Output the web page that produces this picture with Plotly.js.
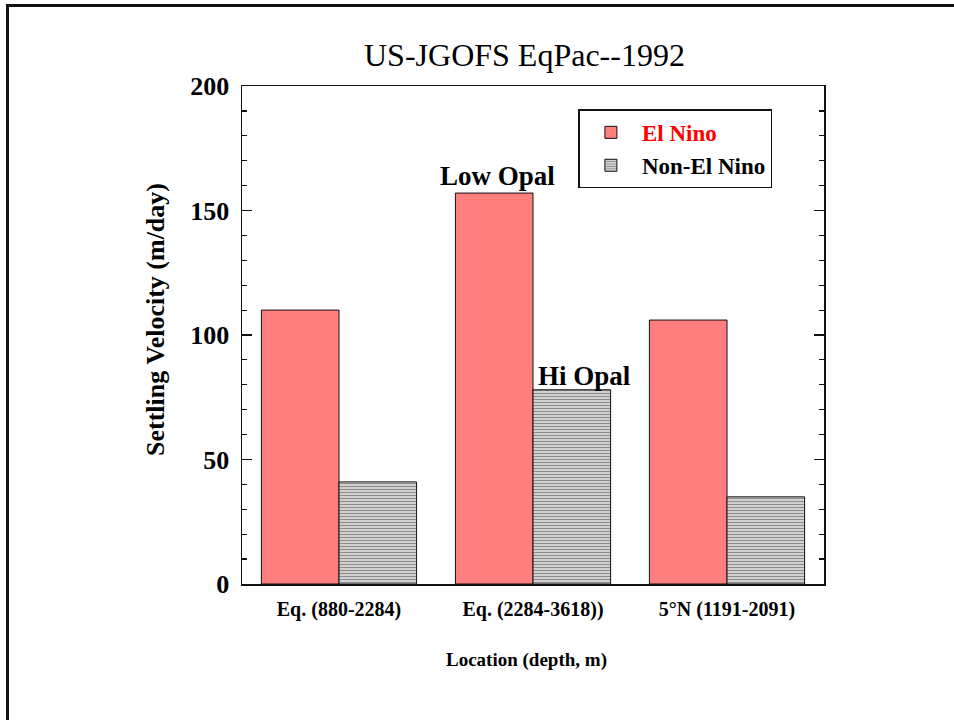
<!DOCTYPE html>
<html>
<head>
<meta charset="utf-8">
<script src="https://cdn.plot.ly/plotly-3.0.1.min.js"></script>
<style>
body{margin:0;padding:0;background:#fff;}
#wrap{position:relative;width:954px;height:720px;overflow:hidden;}
#chart{position:absolute;left:0;top:0;width:954px;height:720px;}
#frame{position:absolute;left:6px;top:4px;width:960px;height:730px;border-left:3px solid #111;border-top:3px solid #111;pointer-events:none;}
</style>
</head>
<body>
<div id="wrap"><div id="chart"></div><div id="frame"></div></div>
<script>
var categories = ['Eq. (880-2284)', 'Eq. (2284-3618))', '5°N (1191-2091)'];
var elNino = [110, 157, 106];
var nonElNino = [41, 78, 35];
var seriesNames = ['El Nino', 'Non-El Nino'];

var F = 'Liberation Serif';

var traces = [
  {type:'bar', x:categories, y:elNino, name:'<span style="color:#ff0000">'+seriesNames[0]+'</span>',
   marker:{color:'#ff7f7f', line:{color:'#111', width:1}}},
  {type:'bar', x:categories, y:nonElNino, name:seriesNames[1],
   marker:{color:'#ffffff', line:{color:'#111', width:1},
     pattern:{shape:'-', fgcolor:'#8c8c8c', bgcolor:'#ffffff', size:3, solidity:0.6, fillmode:'replace'}}}
];

var layout = {
  width:954, height:720,
  margin:{l:242, r:130, t:86, b:136},
  paper_bgcolor:'#fff', plot_bgcolor:'#fff',
  barmode:'group', bargap:0.2, bargroupgap:0,
  showlegend:true,
  legend:{x:0.578, y:0.953, xanchor:'left', yanchor:'top',
    bordercolor:'#111', borderwidth:1.5, bgcolor:'#fff',
    font:{family:F, size:23, color:'#000', weight:'bold'},
    itemwidth:52, tracegroupgap:0},
  xaxis:{type:'category', range:[-0.5, 2.5], showline:true, linecolor:'#111', linewidth:1.5, mirror:true,
    ticks:'', showgrid:false, zeroline:false,
    tickfont:{family:F, size:20, color:'#000', weight:'bold'}, ticklabelstandoff:6},
  yaxis:{range:[0,200], showline:true, linecolor:'#111', linewidth:1.5, mirror:'ticks',
    ticks:'inside', ticklen:10, tickwidth:1.5, tickcolor:'#111', dtick:50, tick0:0,
    showgrid:false, zeroline:false,
    minor:{ticks:'inside', ticklen:5, tickwidth:1.2, tickcolor:'#111', dtick:10, showgrid:false},
    tickfont:{family:F, size:26, color:'#000', weight:'bold'}, ticklabelstandoff:6},
  annotations:[
    {text:'US-JGOFS EqPac--1992', xref:'paper', yref:'paper', x:(524-242)/582, y:(584-55)/498,
     xanchor:'center', yanchor:'middle', showarrow:false, font:{family:F, size:32, color:'#000'}},
    {text:'Settling Velocity (m/day)', xref:'paper', yref:'paper', x:(155-242)/582, y:(584-320)/498,
     xanchor:'center', yanchor:'middle', textangle:-90, showarrow:false,
     font:{family:F, size:26, color:'#000', weight:'bold'}},
    {text:'Location (depth, m)', xref:'paper', yref:'paper', x:(526-242)/582, y:(584-660)/498,
     xanchor:'center', yanchor:'middle', showarrow:false,
     font:{family:F, size:19, color:'#000', weight:'bold'}},
    {text:'Low Opal', x:categories[1], y:elNino[1], xref:'x', yref:'y', xshift:-36, yshift:0,
     xanchor:'center', yanchor:'bottom', showarrow:false,
     font:{family:F, size:27, color:'#000', weight:'bold'}},
    {text:'Hi Opal', x:categories[1], y:nonElNino[1], xref:'x', yref:'y', xshift:51, yshift:-3,
     xanchor:'center', yanchor:'bottom', showarrow:false,
     font:{family:F, size:27, color:'#000', weight:'bold'}}
  ]
};

Plotly.newPlot('chart', traces, layout, {displayModeBar:false, staticPlot:true});
</script>
</body>
</html>
